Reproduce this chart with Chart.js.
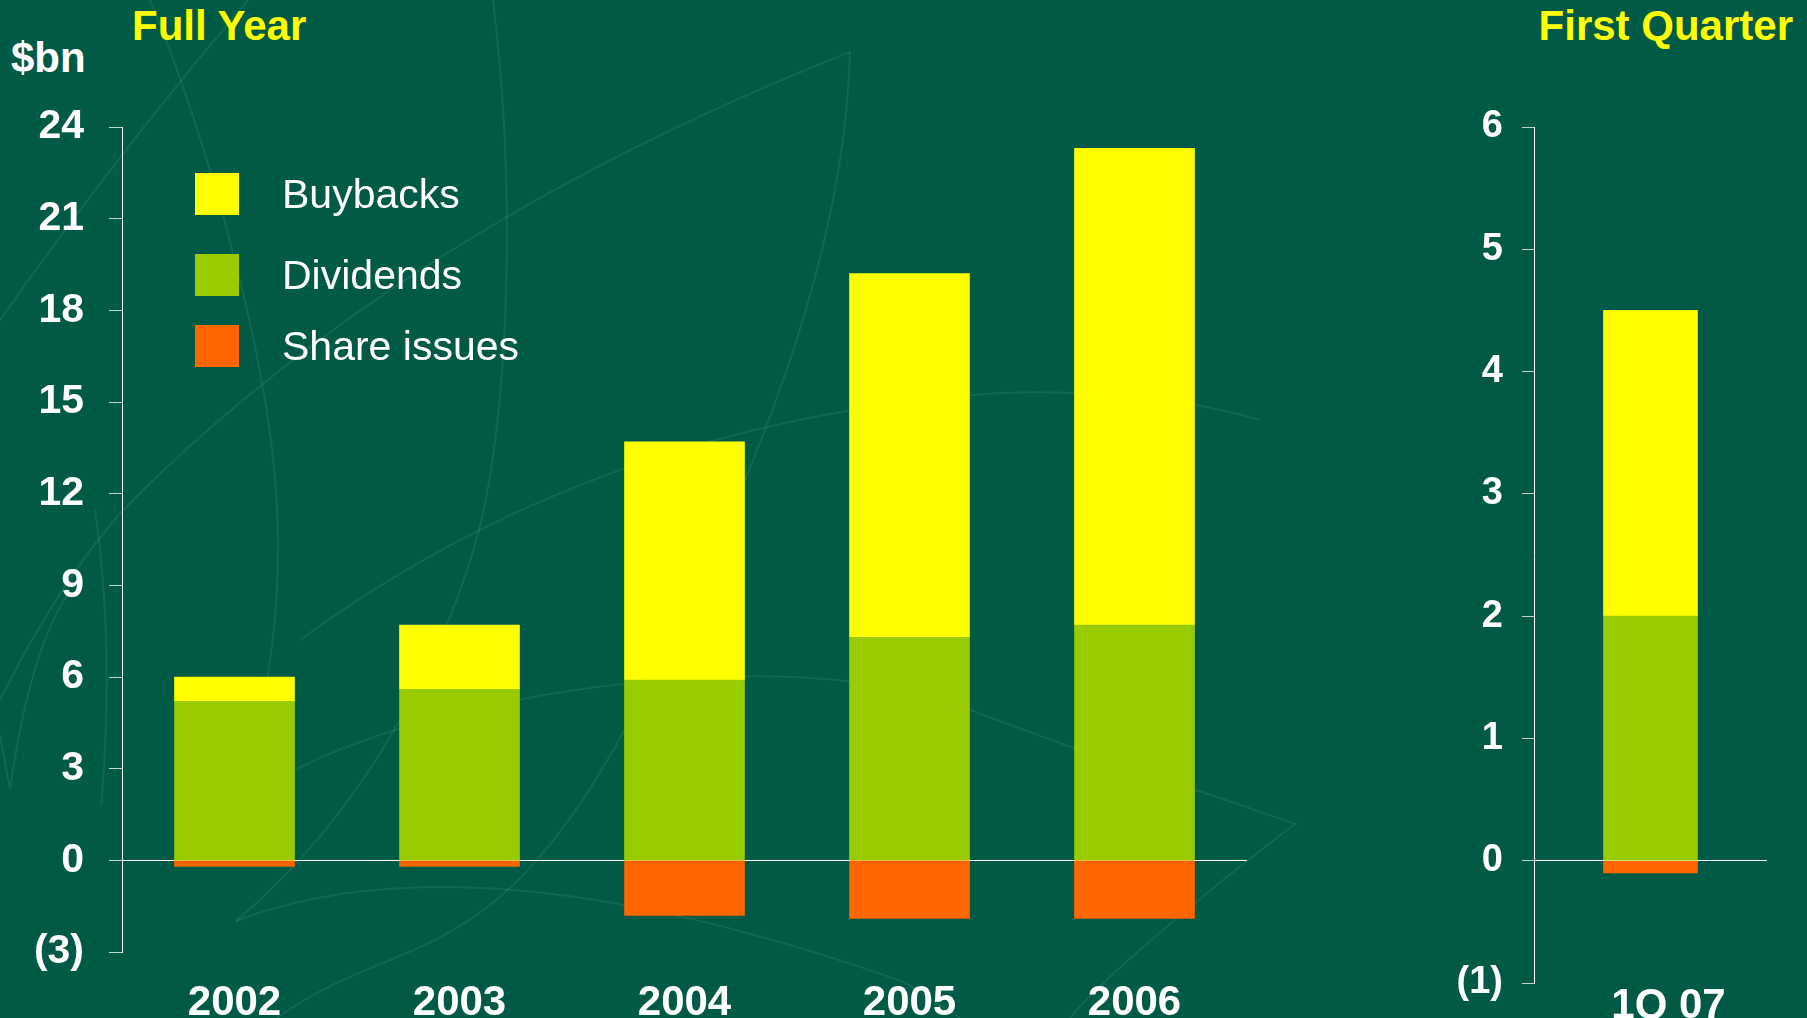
<!DOCTYPE html>
<html>
<head>
<meta charset="utf-8">
<script src="https://cdn.jsdelivr.net/npm/chart.js@4.4.1/dist/chart.umd.min.js"></script>
<style>
  html, body { margin: 0; padding: 0; width: 1807px; height: 1018px; overflow: hidden; background: #005a46; font-family: "Liberation Sans", Arial, sans-serif; }
  #deco { position: absolute; left: 0; top: 0; }
  canvas { position: absolute; top: 0; }
  #full-year-chart { left: 0; }
  #quarter-chart { left: 1260px; }
  .title { position: absolute; top: 5px; color: #ffff00; font-weight: bold; font-size: 42px; line-height: 1; white-space: nowrap; }
  .unit { position: absolute; left: 11px; top: 37px; color: #fff; font-weight: bold; font-size: 42px; line-height: 1; }
  #legend { position: absolute; left: 195px; top: 173px; }
  .item { display: flex; align-items: center; height: 42px; }
  .item:nth-child(1) { margin-bottom: 39px; }
  .item:nth-child(2) { margin-bottom: 29px; }
  .swatch { width: 44px; height: 42px; }
  .item span { margin-left: 43px; color: #fff; font-size: 41px; line-height: 42px; white-space: nowrap; }
</style>
</head>
<body>
<!-- faint background watermark curves -->
<svg id="deco" width="1807" height="1018" fill="none" stroke="rgba(255,255,255,0.075)" stroke-width="2">
  <path d="M150,0 C200,120 270,350 277,509 C282,620 265,700 250,760"/>
  <path d="M248,0 Q120,150 0,320"/>
  <path d="M493,0 C515,180 510,380 484,509 C460,620 380,800 236,921"/>
  <path d="M850,52 Q400,230 124,509 Q60,580 0,700"/>
  <path d="M850,52 C845,250 760,480 625,729 S400,930 277,1018"/>
  <path d="M300,640 Q600,420 1000,393 Q1150,388 1260,420"/>
  <path d="M297,769 C450,690 800,640 968,709 C1100,760 1200,790 1295,824 C1220,880 1100,980 1070,1018"/>
  <path d="M236,921 Q473,830 904,982 L960,1018"/>
  <path d="M0,736 L10,789 Q30,650 69,592"/>
  <path d="M95,509 Q115,650 101,806"/>
</svg>
<div class="title" style="left:132px">Full Year</div>
<div class="title" style="right:14px">First Quarter</div>
<div class="unit">$bn</div>
<canvas id="full-year-chart" width="1260" height="1018"></canvas>
<canvas id="quarter-chart" width="547" height="1018"></canvas>
<div id="legend"></div>
<script>
// full year, $bn
const years = ['2002', '2003', '2004', '2005', '2006'];
const buybacks = [0.8, 2.1, 7.8, 11.9, 15.6];
const dividends = [5.2, 5.6, 5.9, 7.3, 7.7];
const shareIssues = [-0.2, -0.2, -1.8, -1.9, -1.9];

// first quarter
const quarters = ['1Q 07'];
const qBuybacks = [2.5];
const qDividends = [2.0];
const qShareIssues = [-0.1];

const legendNames = ['Buybacks', 'Dividends', 'Share issues'];

const YELLOW = '#ffff00';
const GREEN = '#99cc00';
const ORANGE = '#ff6600';

Chart.defaults.font.family = '"Liberation Sans", Arial, sans-serif';
Chart.defaults.color = '#ffffff';

function bracket(v) {
    return v < 0 ? '(' + (-v) + ')' : '' + v;
}

function makeChart(canvas, labels, buy, div, iss, o) {
    return new Chart(canvas.getContext('2d'), {
        type: 'bar',
        data: {
            labels: labels,
            // dividends first so they sit at the bottom of the stack
            datasets: [
                { label: 'Dividends', data: div, backgroundColor: GREEN, barThickness: o.barWidth },
                { label: 'Buybacks', data: buy, backgroundColor: YELLOW, barThickness: o.barWidth },
                { label: 'Share issues', data: iss, backgroundColor: ORANGE, barThickness: o.barWidth }
            ]
        },
        options: {
            responsive: false,
            animation: false,
            layout: { padding: { top: 127, right: o.right, left: 0, bottom: 0 } },
            plugins: { legend: { display: false }, tooltip: { enabled: false } },
            scales: {
                x: {
                    stacked: true,
                    grid: { display: false },
                    border: { display: false },
                    ticks: {
                        color: '#fff', padding: o.xPad, labelOffset: o.labelShift,
                        maxRotation: 0, autoSkip: false, font: { size: 42, weight: 'bold' }
                    },
                    afterFit: s => { s.height = o.xHeight; }
                },
                y: {
                    stacked: true,
                    min: o.min,
                    max: o.max,
                    z: 1,
                    border: { display: true, color: '#fff', width: 1 },
                    grid: {
                        drawOnChartArea: true,
                        drawTicks: true,
                        tickLength: o.tickLen,
                        tickColor: 'rgba(255,255,255,0.75)',
                        color: c => (c.tick && c.tick.value === 0) ? '#fff' : 'rgba(0,0,0,0)'
                    },
                    ticks: {
                        stepSize: o.step,
                        color: '#fff',
                        padding: o.yPad,
                        font: { size: o.yFont, weight: 'bold' },
                        callback: v => bracket(v)
                    },
                    afterFit: s => {
                        s.width = o.yWidth;
                        // keep the label padding from pushing the plot area up
                        s.paddingTop = 20;
                        s.paddingBottom = 20;
                    }
                }
            }
        }
    });
}

makeChart(document.querySelector('#full-year-chart'), years, buybacks, dividends, shareIssues, {
    barWidth: 120, right: 13, xPad: 18, labelShift: 0, xHeight: 66, min: -3, max: 24, step: 3,
    tickLen: 13, yPad: 25, yFont: 41, yWidth: 122
});

makeChart(document.querySelector('#quarter-chart'), quarters, qBuybacks, qDividends, qShareIssues, {
    barWidth: 94, right: 40, xPad: -10, labelShift: 18, xHeight: 35, min: -1, max: 6, step: 1,
    tickLen: 12, yPad: 19, yFont: 38, yWidth: 274
});

const legendColors = { 'Buybacks': YELLOW, 'Dividends': GREEN, 'Share issues': ORANGE };
const legend = document.querySelector('#legend');
legendNames.forEach(name => {
    const item = document.createElement('div');
    item.className = 'item';
    const sw = document.createElement('div');
    sw.className = 'swatch';
    sw.style.background = legendColors[name];
    const txt = document.createElement('span');
    txt.textContent = name;
    item.appendChild(sw);
    item.appendChild(txt);
    legend.appendChild(item);
});
</script>
</body>
</html>
